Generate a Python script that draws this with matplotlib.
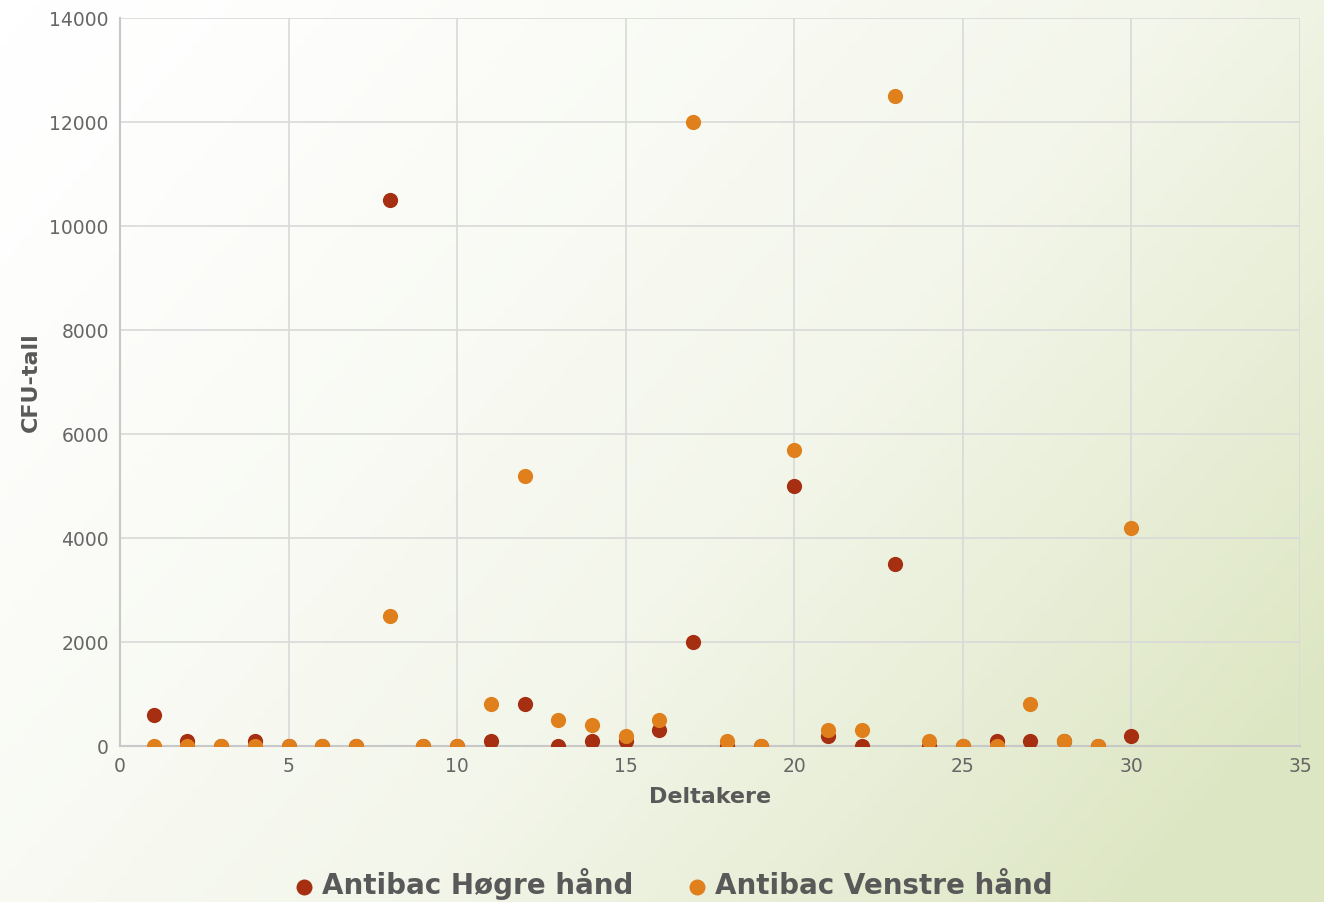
import numpy as np
import matplotlib.pyplot as plt
from matplotlib.colors import LinearSegmentedColormap

deltakere = list(range(1, 31))
hogre = [600, 100, 0, 100, 0, 0, 0, 10500, 0, 0,
         100, 800, 0, 100, 100, 300, 2000, 0, 0, 5000,
         200, 0, 3500, 0, 0, 100, 100, 100, 0, 200]
venstre = [0, 0, 0, 0, 0, 0, 0, 2500, 0, 0,
           800, 5200, 500, 400, 200, 500, 12000, 100, 0, 5700,
           300, 300, 12500, 100, 0, 0, 800, 100, 0, 4200]

RED = "#A52F10"
ORANGE = "#E0801C"
GREY = "#595959"

plt.rcParams['font.family'] = ['DejaVu Sans']

fig = plt.figure(figsize=(13.24, 9.02), dpi=100)

# background gradient, white top-left to pale green bottom-right
bg = fig.add_axes([0, 0, 1, 1], zorder=-10)
xx, yy = np.meshgrid(np.linspace(0, 1, 200), np.linspace(0, 1, 200))
t = np.clip((xx * 0.75 + yy * 0.45) / 1.1, 0, 1) ** 1.4
cmap = LinearSegmentedColormap.from_list("bg", ["#ffffff", "#f3f6ea", "#dde6c3"])
bg.imshow(t, cmap=cmap, extent=[0, 1, 0, 1], aspect="auto", origin="upper")
bg.axis("off")

ax = fig.add_axes([0.0906, 0.1729, 0.8913, 0.8071])
ax.patch.set_alpha(0)
ax.scatter(deltakere, hogre, s=120, color=RED, zorder=3, linewidths=0, label="Antibac Høgre hånd")
ax.scatter(deltakere, venstre, s=120, color=ORANGE, zorder=4, linewidths=0, label="Antibac Venstre hånd")

ax.set_xlim(0, 35)
ax.set_ylim(0, 14000)
ax.set_xticks(range(0, 36, 5))
ax.set_yticks(range(0, 14001, 2000))
ax.grid(True, color="#d9d9d9", linewidth=1.2)
ax.set_axisbelow(True)
for s in ["top", "right"]:
    ax.spines[s].set_visible(False)
for s in ["left", "bottom"]:
    ax.spines[s].set_color("#c8c8c8")
    ax.spines[s].set_linewidth(1.5)
ax.tick_params(length=0, labelsize=13.5, colors="#666666", pad=8)
ax.set_xlabel("Deltakere", fontsize=16, fontweight="bold", color=GREY, labelpad=8)
ax.set_ylabel("CFU-tall", fontsize=16, fontweight="bold", color=GREY, labelpad=6)

fig.legend(loc="center", bbox_to_anchor=(0.506, 0.02), ncol=2, frameon=False,
           prop={"size": 20, "weight": "bold"}, labelcolor=GREY, handletextpad=0.05,
           columnspacing=1.7, markerscale=1.05, handlelength=1.2)

fig.savefig("out.png", dpi=100)
